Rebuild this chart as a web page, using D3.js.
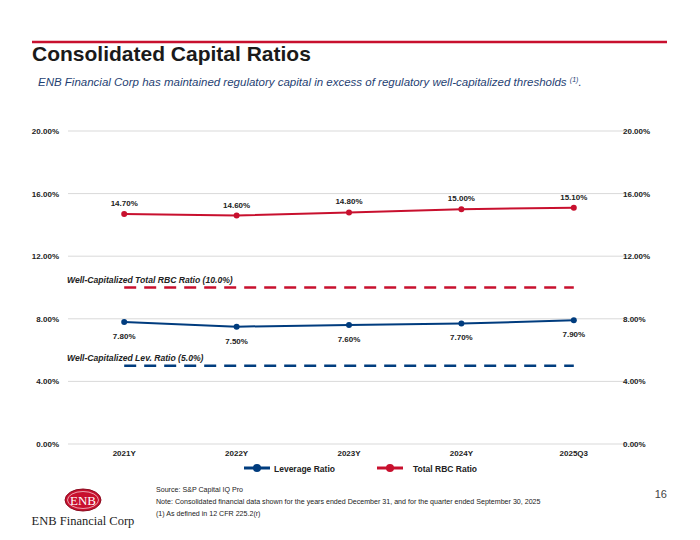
<!DOCTYPE html>
<html>
<head>
<meta charset="utf-8">
<script src="https://cdn.jsdelivr.net/npm/d3@7"></script>
<style>
	body{margin:0;background:#fff;}
	svg text{font-family:"Liberation Sans",Arial,sans-serif;}
</style>
</head>
<body>
<div id="chart"></div>
<script>
var categories = ["2021Y","2022Y","2023Y","2024Y","2025Q3"];
var leverageRatio = [7.80,7.50,7.60,7.70,7.90];
var totalRbcRatio = [14.70,14.60,14.80,15.00,15.10];
var yTicks = [0,4,8,12,16,20];
var thresholds = [
	{label:"Well-Capitalized Total RBC Ratio (10.0%)", value:10.0, color:"#c8102e"},
	{label:"Well-Capitalized Lev. Ratio (5.0%)", value:5.0, color:"#003c7e"}
];

var W = 700, H = 540;
var red = "#c8102e", blue = "#003c7e";

var svg = d3.select("#chart").append("svg").attr("width",W).attr("height",H);

// header
svg.append("line").attr("x1",32).attr("x2",667).attr("y1",42).attr("y2",42)
	.attr("stroke",red).attr("stroke-width",2.5);
svg.append("text").attr("x",32).attr("y",61).text("Consolidated Capital Ratios")
	.style("font-size","21px").style("font-weight","bold").attr("fill","#1a1a1a");
var sub = svg.append("text").attr("x",38).attr("y",86)
	.style("font-size","11.5px").style("font-style","italic").attr("fill","#1f3f73");
sub.append("tspan").text("ENB Financial Corp has maintained regulatory capital in excess of regulatory well-capitalized thresholds ");
sub.append("tspan").text("(1)").style("font-size","7px").attr("dy",-4);
sub.append("tspan").text(".").attr("dy",4);

// scales
var x = d3.scaleBand().domain(categories).range([68,630]);
var y = d3.scaleLinear().domain([0,20]).range([444,131]);
var cx = function(d,i){ return x(categories[i]) + x.bandwidth()/2; };

// grid
svg.append("g").selectAll("line").data(yTicks).enter().append("line")
	.attr("x1",68).attr("x2",630)
	.attr("y1",function(d){return y(d);}).attr("y2",function(d){return y(d);})
	.attr("stroke","#d9d9d9").attr("stroke-width",1);

// axes
var fmt = function(d){ return d.toFixed(2)+"%"; };
var left = svg.append("g").attr("transform","translate(62,0)")
	.call(d3.axisLeft(y).tickValues(yTicks).tickFormat(fmt).tickSize(0));
var right = svg.append("g").attr("transform","translate(620,0)")
	.call(d3.axisRight(y).tickValues(yTicks).tickFormat(fmt).tickSize(0));
var bottom = svg.append("g").attr("transform","translate(0,447)")
	.call(d3.axisBottom(x).tickSize(0));
[left,right,bottom].forEach(function(g){
	g.select(".domain").remove();
	g.selectAll("text").style("font-size","8px").style("font-weight","bold").attr("fill","#222")
		.style("font-family","'Liberation Sans',Arial,sans-serif");
});
left.selectAll("text").attr("dx",0);
right.selectAll("text").attr("dx",0);

// threshold lines
thresholds.forEach(function(t){
	svg.append("line")
		.attr("x1",x(categories[0])+x.bandwidth()/2)
		.attr("x2",x(categories[categories.length-1])+x.bandwidth()/2)
		.attr("y1",y(t.value)).attr("y2",y(t.value))
		.attr("stroke",t.color).attr("stroke-width",2.5).attr("stroke-dasharray","12,8");
	svg.append("text").attr("x",67).attr("y",y(t.value)-5)
		.text(t.label).style("font-size","8.6px").style("font-weight","bold")
		.style("font-style","italic").attr("fill","#222");
});

// series
function drawSeries(values,color,labelDy){
	var line = d3.line().x(cx).y(function(d){return y(d);});
	svg.append("path").datum(values).attr("d",line)
		.attr("fill","none").attr("stroke",color).attr("stroke-width",2);
	svg.append("g").selectAll("circle").data(values).enter().append("circle")
		.attr("cx",cx).attr("cy",function(d){return y(d);}).attr("r",3)
		.attr("fill",color);
	svg.append("g").selectAll("text").data(values).enter().append("text")
		.attr("x",cx).attr("y",function(d){return y(d)+labelDy;})
		.attr("text-anchor","middle").text(function(d){return d.toFixed(2)+"%";})
		.style("font-size","8px").style("font-weight","bold").attr("fill","#222");
}
drawSeries(totalRbcRatio,red,-8);
drawSeries(leverageRatio,blue,17);

// legend
var legend = [{name:"Leverage Ratio",color:blue,x:244},{name:"Total RBC Ratio",color:red,x:377}];
legend.forEach(function(l){
	var g = svg.append("g").attr("transform","translate("+l.x+",468)");
	g.append("line").attr("x1",0).attr("x2",26).attr("stroke",l.color).attr("stroke-width",3);
	g.append("circle").attr("cx",13).attr("r",4).attr("fill",l.color);
	g.append("text").attr("x",l.name=="Leverage Ratio"?30:36).attr("y",3.5).text(l.name)
		.style("font-size","8.5px").style("font-weight","bold").attr("fill","#222");
});

// footer notes
var notes = ["Source: S&P Capital IQ Pro",
	"Note: Consolidated financial data shown for the years ended December 31, and for the quarter ended September 30, 2025",
	"(1) As defined in 12 CFR 225.2(r)"];
svg.append("g").selectAll("text").data(notes).enter().append("text")
	.attr("x",156).attr("y",function(d,i){return 492+i*12;}).text(function(d){return d;})
	.style("font-size","7.1px").attr("fill","#222");
svg.append("text").attr("x",667).attr("y",498).attr("text-anchor","end").text("16")
	.style("font-size","11px").attr("fill","#444");

// logo
var logo = svg.append("g").attr("transform","translate(83,500)");
logo.append("ellipse").attr("rx",18).attr("ry",11).attr("fill","#c8102e")
	.attr("stroke","#8a0c20").attr("stroke-width",1);
logo.append("ellipse").attr("rx",15.5).attr("ry",8.5).attr("fill","none")
	.attr("stroke","#f2c7ce").attr("stroke-width",0.8);
logo.append("text").attr("y",4.5).attr("text-anchor","middle").text("ENB")
	.style("font-family","'Liberation Serif','DejaVu Serif',serif").style("font-size","13px").attr("fill","#fff");
svg.append("text").attr("x",83).attr("y",525).attr("text-anchor","middle").text("ENB Financial Corp")
	.style("font-family","'Liberation Serif','DejaVu Serif',serif").style("font-size","12.5px").attr("fill","#222");
</script>
</body>
</html>
